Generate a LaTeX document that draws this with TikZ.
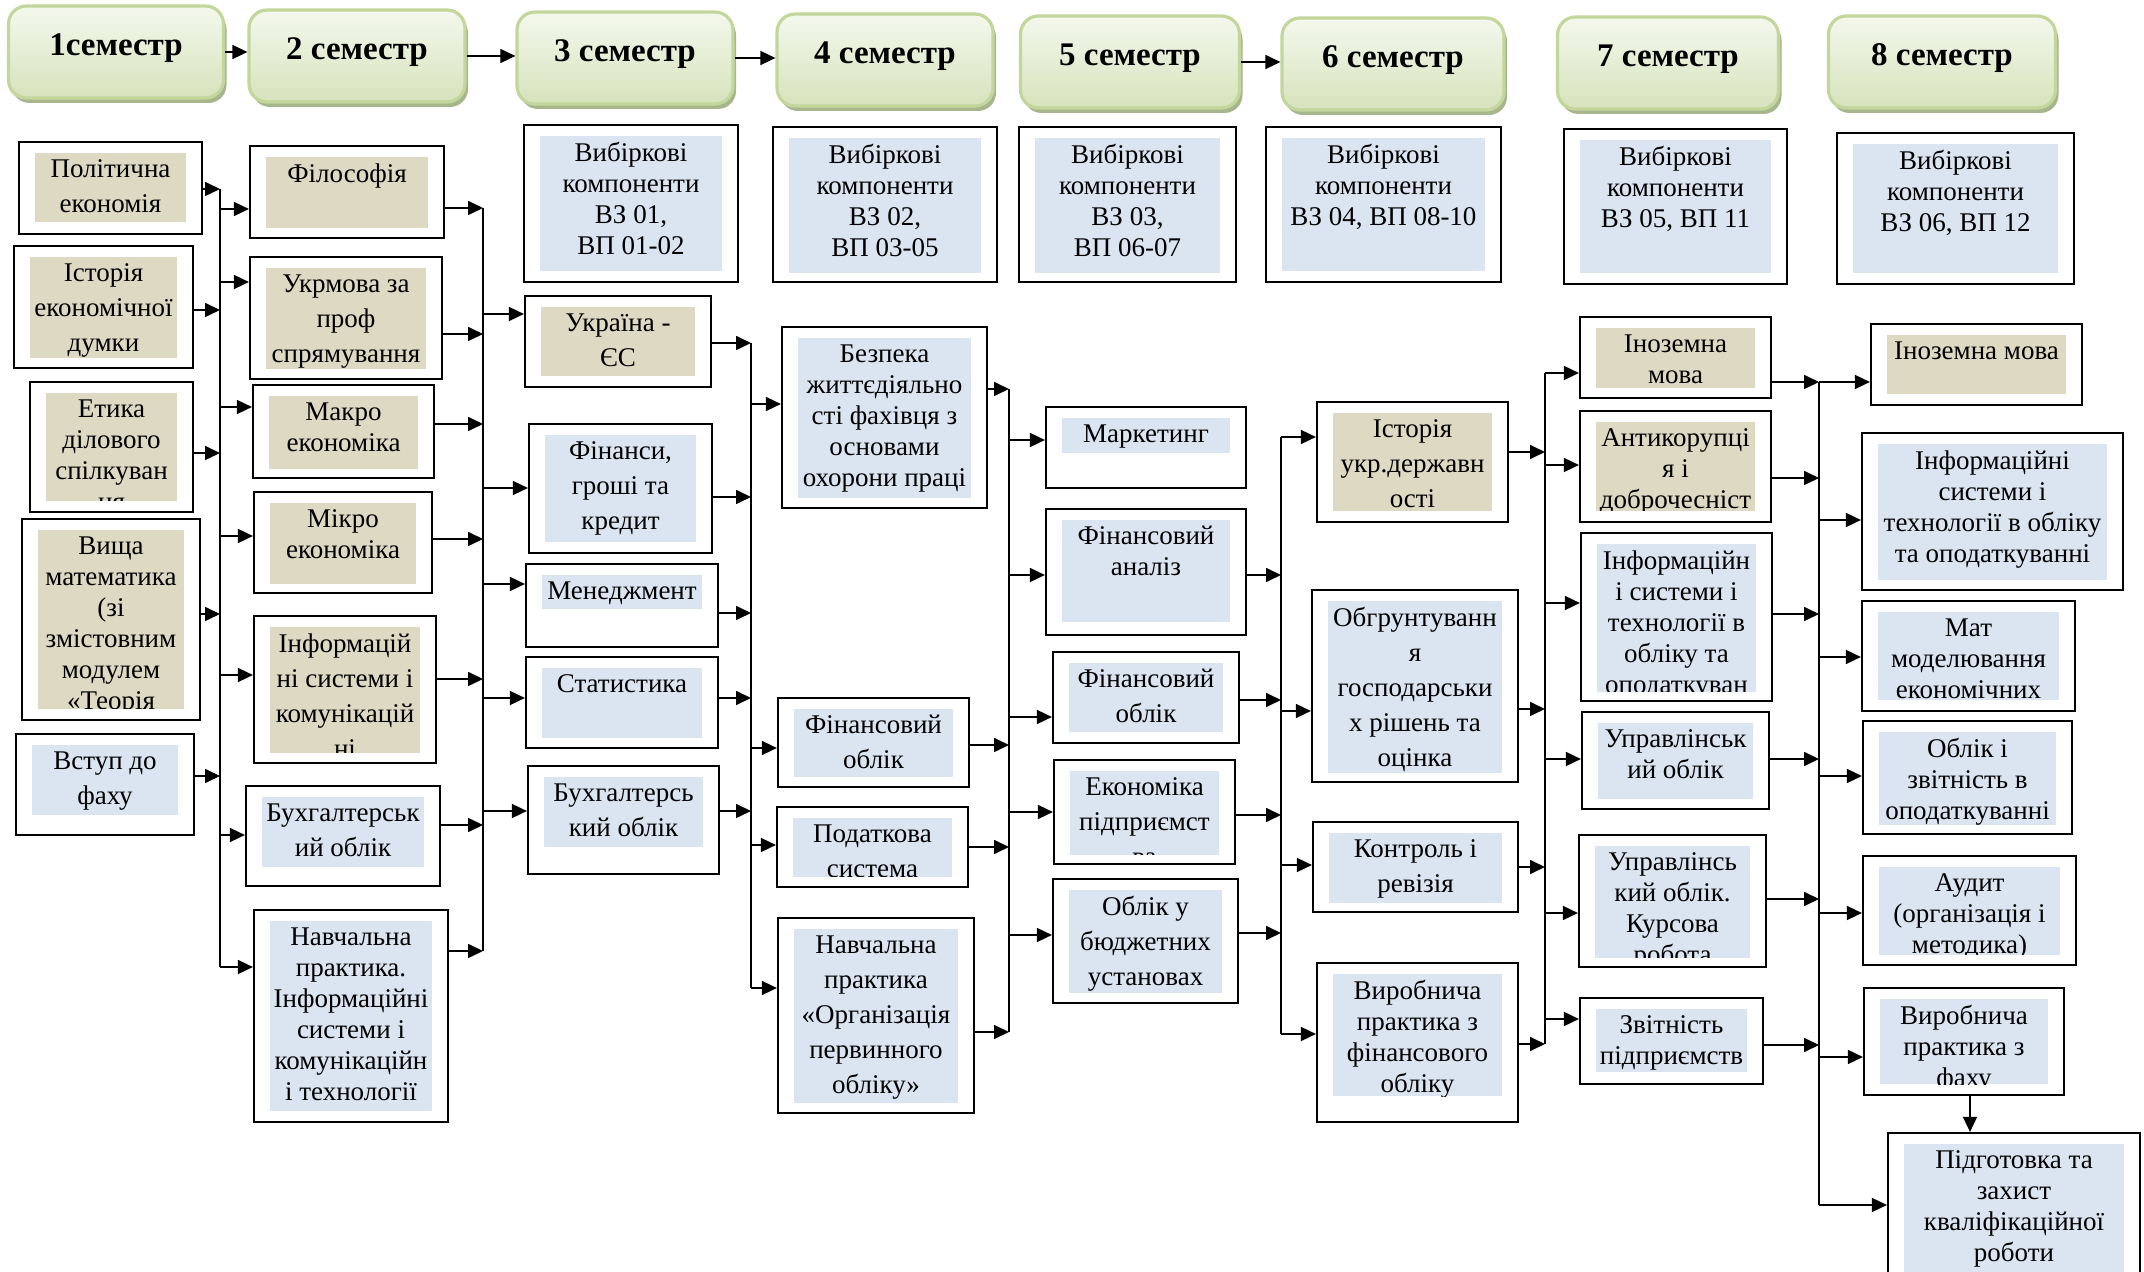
\documentclass[tikz,border=0pt]{standalone}
\usepackage{fontspec}
\setmainfont{Liberation Serif}
\usetikzlibrary{shadows, arrows.meta}
\definecolor{hdLine}{RGB}{195,214,155}
\definecolor{hdTop}{RGB}{244,248,237}
\definecolor{hdBottom}{RGB}{214,227,188}
\definecolor{hdShadow}{RGB}{168,182,142}
\definecolor{subjTan}{RGB}{221,217,195}
\definecolor{subjBlue}{RGB}{219,229,241}

% subject box: name, x1, y1, x2, y2, bottom of the coloured field, style, text
\newcommand{\subj}[8]{%
  \node[box, minimum width={(#4-#2)*0.5pt}, minimum height={(#5-#3)*0.5pt}] (#1) at ({(#2+#4)/2},{(#3+#5)/2}) {};
  \fill[#7] (#2+16,#3+11) rectangle (#4-16,#6);
  \begin{scope}
    \clip (#2+16,#3+11) rectangle (#4-16,#6);
    \node[txt, #7, fill=none] (#1-t) at ({(#2+#4)/2},#3+17) {#8};
  \end{scope}}

\begin{document}
\begin{tikzpicture}[x=0.5pt, y=-0.5pt,
    hdr/.style={draw=hdLine, line width=1.6pt, rounded corners=9pt, top color=hdTop, bottom color=hdBottom,
      drop shadow={shadow xshift=1.5pt, shadow yshift=-2.5pt, fill=hdShadow, opacity=1},
      minimum height=46pt, font=\fontsize{16.5}{19}\selectfont\bfseries, text height=11.5pt, text depth=7.5pt},
    box/.style={draw, line width=1.1pt, fill=white, inner sep=0pt},
    txt/.style={font=\fontsize{13.5}{15.5}\selectfont, align=center, inner sep=0pt, anchor=north},
    lo/.style={font=\fontsize{13.5}{17.5}\selectfont},
    tan/.style={fill=subjTan},
    blu/.style={fill=subjBlue},
    arr/.style={-{Triangle[length=7.5pt, width=7pt]}, line width=0.85pt},
    bus/.style={line width=0.9pt}
  ]
  \useasboundingbox (0,0) rectangle (2144,1272);
  \clip (0,0) rectangle (2144,1272);

  % semesters
  \foreach \n/\x/\y/\w/\t in {h1/116/52/215/1семестр, h2/357/56/216/2 семестр, h3/625/58/216/3 семестр,
      h4/885/60/216/4 семестр, h5/1130/62/219/5 семестр, h6/1393/64/222/6 семестр,
      h7/1668/63/221/7 семестр, h8/1942/62/227/8 семестр}
    \node[hdr, minimum width=\w*0.5pt] (\n) at (\x,\y) {\t};
  \foreach \a/\b in {h1/h2, h2/h3, h3/h4, h5/h6}
    \draw[arr] (\a.east) -- (\a.east -| \b.west);

  % 1 semester
  \subj{pe}{19}{142}{202}{234}{222}{tan,lo}{Політична\\економія}
  \subj{ied}{14}{246}{193}{368}{358}{tan,lo}{Історія\\економічної\\думки}
  \subj{edc}{30}{382}{193}{512}{501}{tan}{Етика\\ділового\\спілкуван\\ня}
  \subj{vm}{22}{519}{200}{720}{709}{tan}{Вища\\математика\\(зі\\змістовним\\модулем\\«Теорія}
  \subj{vf}{16}{734}{194}{835}{815}{blu,lo}{Вступ до\\фаху}

  % 2 semester
  \subj{fil}{250}{146}{444}{238}{228}{tan}{Філософія}
  \subj{ukr}{250}{257}{442}{379}{369}{tan,lo}{Укрмова за\\проф\\спрямування}
  \subj{makro}{253}{385}{434}{478}{469}{tan}{Макро\\економіка}
  \subj{mikro}{254}{492}{432}{593}{584}{tan}{Мікро\\економіка}
  \subj{inf}{254}{616}{436}{763}{753}{tan,lo}{Інформацій\\ні системи і\\комунікацій\\ні}
  \subj{bukh1}{246}{786}{440}{886}{867}{blu,lo}{Бухгалтерськ\\ий облік}
  \subj{np1}{254}{910}{448}{1122}{1111}{blu}{Навчальна\\практика.\\Інформаційні\\системи і\\комунікаційн\\і технології}

  % 3 semester
  \subj{vk3}{524}{125}{738}{282}{271}{blu}{Вибіркові\\компоненти\\ВЗ 01,\\ВП 01-02}
  \subj{ua}{525}{296}{711}{387}{376}{tan,lo}{Україна -\\ЄС}
  \subj{fin}{529}{424}{712}{553}{542}{blu,lo}{Фінанси,\\гроші та\\кредит}
  \subj{men}{526}{564}{718}{647}{609}{blu}{Менеджмент}
  \subj{stat}{526}{657}{718}{748}{738}{blu}{Статистика}
  \subj{bukh2}{528}{766}{719}{874}{847}{blu,lo}{Бухгалтерсь\\кий облік}

  % 4 semester
  \subj{vk4}{773}{127}{997}{282}{273}{blu}{Вибіркові\\компоненти\\ВЗ 02,\\ВП 03-05}
  \subj{bez}{782}{327}{987}{508}{498}{blu}{Безпека\\життєдіяльно\\сті фахівця з\\основами\\охорони праці}
  \subj{finob4}{778}{698}{969}{787}{777}{blu,lo}{Фінансовий\\облік}
  \subj{podat}{777}{807}{968}{887}{877}{blu,lo}{Податкова\\система}
  \subj{np2}{778}{918}{974}{1113}{1103}{blu,lo}{Навчальна\\практика\\«Організація\\первинного\\обліку»}

  % 5 semester
  \subj{vk5}{1019}{127}{1236}{282}{273}{blu}{Вибіркові\\компоненти\\ВЗ 03,\\ВП 06-07}
  \subj{mark}{1046}{407}{1246}{488}{453}{blu}{Маркетинг}
  \subj{fa}{1046}{509}{1246}{635}{622}{blu}{Фінансовий\\аналіз}
  \subj{finob5}{1053}{652}{1239}{743}{732}{blu,lo}{Фінансовий\\облік}
  \subj{ek}{1054}{760}{1235}{864}{855}{blu,lo}{Економіка\\підприємст\\ва}
  \subj{obu}{1053}{879}{1238}{1003}{993}{blu,lo}{Облік у\\бюджетних\\установах}

  % 6 semester
  \subj{vk6}{1266}{127}{1501}{282}{271}{blu}{Вибіркові\\компоненти\\ВЗ 04, ВП 08-10}
  \subj{ist}{1317}{402}{1508}{522}{511}{tan,lo}{Історія\\укр.державн\\ості}
  \subj{obg}{1312}{590}{1518}{782}{773}{blu,lo}{Обгрунтуванн\\я\\господарськи\\х рішень та\\оцінка}
  \subj{kr}{1313}{822}{1518}{912}{903}{blu,lo}{Контроль і\\ревізія}
  \subj{vp6}{1317}{963}{1518}{1122}{1096}{blu}{Виробнича\\практика з\\фінансового\\обліку}

  % 7 semester
  \subj{vk7}{1564}{129}{1787}{284}{273}{blu}{Вибіркові\\компоненти\\ВЗ 05, ВП 11}
  \subj{ino7}{1580}{317}{1771}{398}{388}{tan}{Іноземна\\мова}
  \subj{anti}{1580}{411}{1771}{522}{511}{tan}{Антикорупці\\я і\\доброчесніст}
  \subj{inf7}{1581}{533}{1772}{701}{692}{blu}{Інформаційн\\і системи і\\технології в\\обліку та\\оподаткуван}
  \subj{uo}{1582}{712}{1769}{809}{799}{blu}{Управлінськ\\ий облік}
  \subj{uok}{1579}{835}{1766}{967}{958}{blu}{Управлінсь\\кий облік.\\Курсова\\робота}
  \subj{zv}{1580}{998}{1763}{1084}{1072}{blu}{Звітність\\підприємств}

  % 8 semester
  \subj{vk8}{1837}{133}{2074}{284}{273}{blu}{Вибіркові\\компоненти\\ВЗ 06, ВП 12}
  \subj{ino8}{1871}{324}{2082}{405}{394}{tan}{Іноземна мова}
  \subj{inf8}{1862}{433}{2123}{590}{580}{blu}{Інформаційні\\системи і\\технології в обліку\\та оподаткуванні}
  \subj{mat}{1862}{601}{2075}{711}{700}{blu}{Мат\\моделювання\\економічних}
  \subj{obz}{1863}{721}{2072}{834}{825}{blu}{Облік і\\звітність в\\оподаткуванні}
  \subj{aud}{1863}{856}{2076}{965}{955}{blu}{Аудит\\(організація і\\методика)}
  \subj{vp8}{1864}{988}{2064}{1095}{1084}{blu}{Виробнича\\практика з\\фаху}
  \subj{pz}{1888}{1133}{2140}{1290}{1281}{blu}{Підготовка та\\захист\\кваліфікаційної\\роботи}

  % buses
  \foreach \b/\x/\t/\e in {b1/220/189/967, b2/483/208/951, b3/751/343/988, b4/1009/389/1032,
      b5/1281/437/1034, b6/1545/373/1044, b7/1819/382/1205}{
    \coordinate (\b t) at (\x,\t);
    \coordinate (\b e) at (\x,\e);
    \draw[bus] (\b t) -- (\b e);}

  % into the buses
  \foreach \n/\b/\y in {pe/b1/189, ied/b1/310, edc/b1/453, vm/b1/614, vf/b1/776,
      fil/b2/208, ukr/b2/334, makro/b2/424, mikro/b2/539, inf/b2/679, bukh1/b2/825, np1/b2/951,
      ua/b3/343, fin/b3/497, men/b3/613, stat/b3/698, bukh2/b3/811,
      bez/b4/389, finob4/b4/745, podat/b4/847, np2/b4/1032,
      fa/b5/575, finob5/b5/700, ek/b5/815, obu/b5/933,
      ist/b6/452, obg/b6/709, kr/b6/867, vp6/b6/1044,
      ino7/b7/382, anti/b7/478, inf7/b7/614, uo/b7/759, uok/b7/899, zv/b7/1045}
    \draw[arr] (\n.east |- 0,\y) -- (\b t |- 0,\y);

  % out of the buses
  \foreach \b/\n/\y in {b1/fil/209, b1/ukr/282, b1/makro/407, b1/mikro/536, b1/inf/675, b1/bukh1/835, b1/np1/967,
      b2/ua/314, b2/fin/488, b2/men/584, b2/stat/698, b2/bukh2/811,
      b3/bez/404, b3/finob4/748, b3/podat/845, b3/np2/988,
      b4/mark/440, b4/fa/575, b4/finob5/717, b4/ek/812, b4/obu/935,
      b5/ist/437, b5/obg/711, b5/kr/865, b5/vp6/1034,
      b6/ino7/373, b6/anti/465, b6/inf7/603, b6/uo/759, b6/uok/913, b6/zv/1019,
      b7/ino8/382, b7/inf8/520, b7/mat/657, b7/obz/776, b7/aud/913, b7/vp8/1057, b7/pz/1205}
    \draw[arr] (\b t |- 0,\y) -- (\n.west |- 0,\y);

  \draw[arr] (vp8.south -| 1970,0) -- (pz.north -| 1970,0);
\end{tikzpicture}
\end{document}
